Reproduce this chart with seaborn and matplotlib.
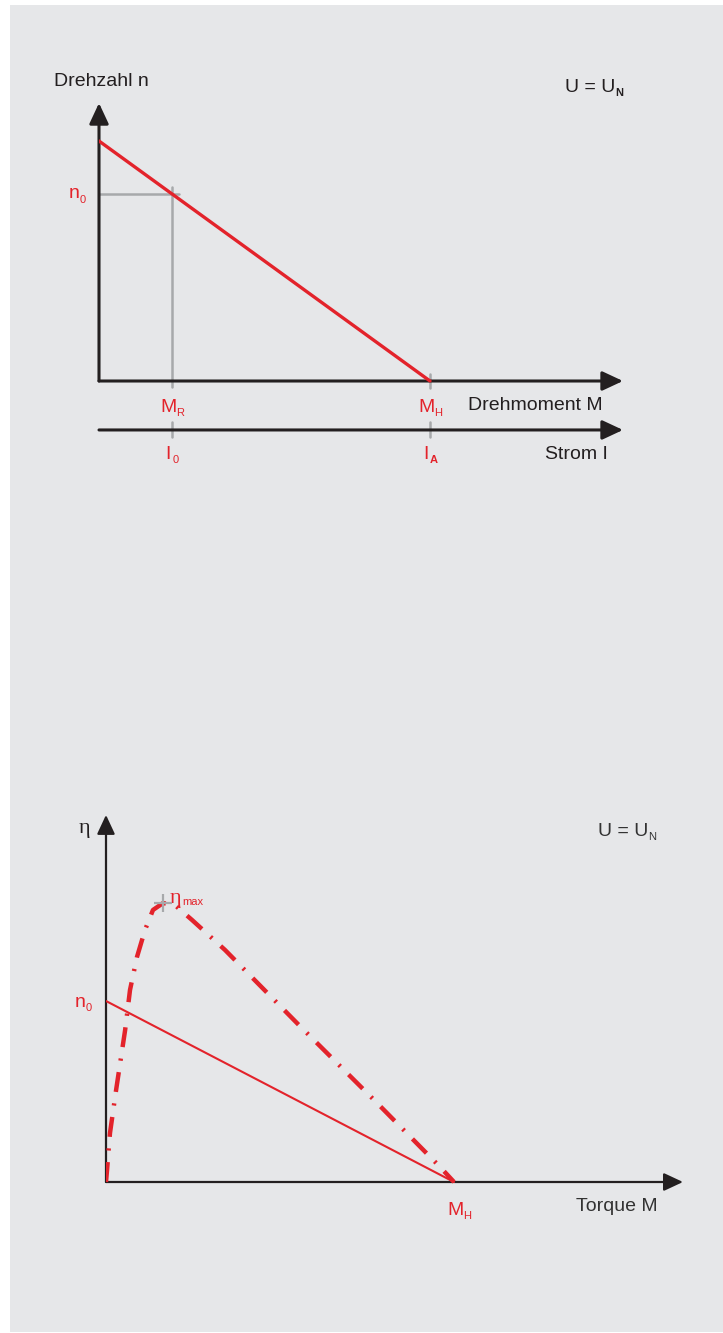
import numpy as np
import pandas as pd
import matplotlib
matplotlib.use("Agg")
import matplotlib.pyplot as plt
import seaborn as sns
from matplotlib.patches import Rectangle
from matplotlib.textpath import TextPath
from matplotlib.font_manager import FontProperties

# Kennlinie oben: Drehzahl n ueber Drehmoment M (normiert, M_H = 1, n bei M=0 = 1)
kenn_M = [0.0, 1.0]
kenn_n = [1.0, 0.0]
M_R = 0.22
n_0 = 0.78
I_achse = -0.204  # Lage der Strom-Achse unter der Momentenachse

# Wirkungsgrad unten (normiert, M_H = 1, n_0 = 1)
wirk_M = [0.0, 0.003, 0.0115, 0.029, 0.055, 0.069, 0.089, 0.112, 0.135, 0.164,
          0.198, 0.247, 0.342, 0.557, 0.773, 0.96, 1.0]
wirk_eta = [0.0, 0.066, 0.271, 0.508, 0.84, 1.061, 1.243, 1.392, 1.503, 1.541,
            1.53, 1.448, 1.282, 0.862, 0.448, 0.083, 0.0]
gerade_M = [0.0, 1.0]
gerade_n = [1.0, 0.0]
eta_max_M = 0.164
eta_max = 1.541

ROT = '#e3232b'
GRAU = '#a7a9ab'
SCHWARZ = '#231f20'
DUNKEL = '#333333'
HINTERGRUND = '#e6e7e9'

sns.set_theme(style='white')
plt.rcParams['font.family'] = ['Liberation Sans', 'DejaVu Sans']

W, H = 723, 1333
fig = plt.figure(figsize=(W / 100, H / 100), dpi=100)
fig.patch.set_facecolor('white')
fig.patches.append(Rectangle((10 / W, 1 / H), 1 - 10 / W, (H - 6) / H,
                             transform=fig.transFigure, facecolor=HINTERGRUND,
                             edgecolor='none', zorder=-10))


def achse(ax, start, ende, lw, ms):
    ax.annotate('', xy=ende, xytext=start,
                arrowprops=dict(arrowstyle='-|>,head_length=0.9,head_width=0.42',
                                lw=lw, color=SCHWARZ, mutation_scale=ms,
                                shrinkA=0, shrinkB=0), annotation_clip=False)


def breite(s, fs, family='Liberation Sans', weight='normal'):
    fp = FontProperties(family=family, weight=weight)
    return TextPath((0, 0), s, size=fs, prop=fp).get_extents().x1


def beschrift(ax, x, y, haupt, sub, farbe, fs=14, subfs=8, ha='left',
              family='Liberation Sans', subweight='normal', tief=3.0, luft=1.6):
    w1 = breite(haupt, fs, family)
    w2 = breite(sub, subfs, weight=subweight)
    total = w1 + luft + w2
    start = {'left': 0, 'center': -total / 2, 'right': -total}[ha]
    base = -0.358 * fs
    ax.annotate(haupt, (x, y), xytext=(start, base), textcoords='offset points',
                fontsize=fs, color=farbe, ha='left', va='baseline', family=family,
                annotation_clip=False)
    ax.annotate(sub, (x, y), xytext=(start + w1 + luft, base - tief), textcoords='offset points',
                fontsize=subfs, color=farbe, ha='left', va='baseline', weight=subweight,
                annotation_clip=False)


def px_axes(left, right, top, bottom):
    ax = fig.add_axes([left / W, (H - bottom) / H, (right - left) / W, (bottom - top) / H])
    ax.patch.set_alpha(0)
    return ax


# ---------- oberes Diagramm ----------
ax1 = px_axes(99, 640, 95, 470)
ax1.set_xlim(0, 541 / 331)
ax1.set_ylim(-(470 - 381) / 240, (381 - 95) / 240)
ax1.axis('off')

# Hilfslinien
ax1.plot([-0.022, M_R + 0.022], [n_0, n_0], color=GRAU, lw=1.8, zorder=2)
ax1.plot([M_R, M_R], [n_0 + 0.03, -0.025], color=GRAU, lw=1.8, zorder=2)
ax1.plot([M_R, M_R], [I_achse + 0.033, I_achse - 0.03], color=GRAU, lw=1.8, zorder=2)
ax1.plot([1.0, 1.0], [0.03, -0.03], color=GRAU, lw=1.8, zorder=2)
ax1.plot([1.0, 1.0], [I_achse + 0.033, I_achse - 0.03], color=GRAU, lw=1.8, zorder=2)

achse(ax1, (0, 0), (0, 1.158), 2.2, 14)
achse(ax1, (0, 0), (1.583, 0), 2.2, 14)
achse(ax1, (0, I_achse), (1.583, I_achse), 2.2, 14)

df1 = pd.DataFrame({'M': kenn_M, 'n': kenn_n})
sns.lineplot(data=df1, x='M', y='n', ax=ax1, color=ROT, lw=2.4, zorder=3)

fs = 14
ax1.text(-0.136, 1.25, 'Drehzahl n', fontsize=fs, color=SCHWARZ, ha='left', va='center')
beschrift(ax1, 1.408, 1.233, 'U = U', 'N', SCHWARZ, subweight='bold', subfs=8, luft=1.0)
beschrift(ax1, -0.04, n_0 + 0.01, 'n', '0', ROT, ha='right', luft=1.0)
beschrift(ax1, M_R, -0.10, 'M', 'R', ROT, ha='center', luft=1.0)
beschrift(ax1, 1.0, -0.10, 'M', 'H', ROT, ha='center', luft=1.0)
ax1.text(1.115, -0.104, 'Drehmoment M', fontsize=fs, color=SCHWARZ, ha='left', va='center')
beschrift(ax1, M_R, -0.296, 'I', '0', ROT, ha='center', luft=2.2)
beschrift(ax1, 1.0, -0.296, 'I', 'A', ROT, ha='center', subweight='bold', luft=2.2)
ax1.text(1.347, -0.308, 'Strom I', fontsize=fs, color=SCHWARZ, ha='left', va='center')

# ---------- unteres Diagramm ----------
ax2 = px_axes(106, 700, 805, 1230)
ax2.set_xlim(0, 594 / 348)
ax2.set_ylim(-(1230 - 1182) / 181, (1182 - 805) / 181)
ax2.axis('off')

achse(ax2, (0, 0), (0, 2.028), 1.6, 13)
achse(ax2, (0, 0), (1.658, 0), 1.6, 13)

df2 = pd.DataFrame({'M': gerade_M, 'n': gerade_n})
sns.lineplot(data=df2, x='M', y='n', ax=ax2, color=ROT, lw=1.5, zorder=3)

df3 = pd.DataFrame({'M': wirk_M, 'eta': wirk_eta})
sns.lineplot(data=df3, x='M', y='eta', ax=ax2, color=ROT, lw=3.2, sort=False,
             linestyle=(0, (4.5, 2.6, 0.5, 2.6)), zorder=3)

ax2.plot([eta_max_M], [eta_max], marker='+', color=GRAU, ms=13, mew=1.6, zorder=4)

ax2.text(-0.063, 1.955, 'η', fontsize=16, color=SCHWARZ, ha='center', va='center',
         family=['Liberation Serif'])
beschrift(ax2, 1.414, 1.950, 'U = U', 'N', DUNKEL, subfs=8, luft=1.0)
beschrift(ax2, 0.184, 1.585, 'η', 'max', ROT, fs=16, subfs=8,
          family='Liberation Serif', tief=1.5, luft=1.2)
beschrift(ax2, -0.066, 1.006, 'n', '0', ROT, ha='center', luft=1.0)
beschrift(ax2, 1.014, -0.144, 'M', 'H', ROT, ha='center', luft=1.0)
ax2.text(1.351, -0.138, 'Torque M', fontsize=14, color=DUNKEL, ha='left', va='center')

fig.savefig('out.png', dpi=100)
